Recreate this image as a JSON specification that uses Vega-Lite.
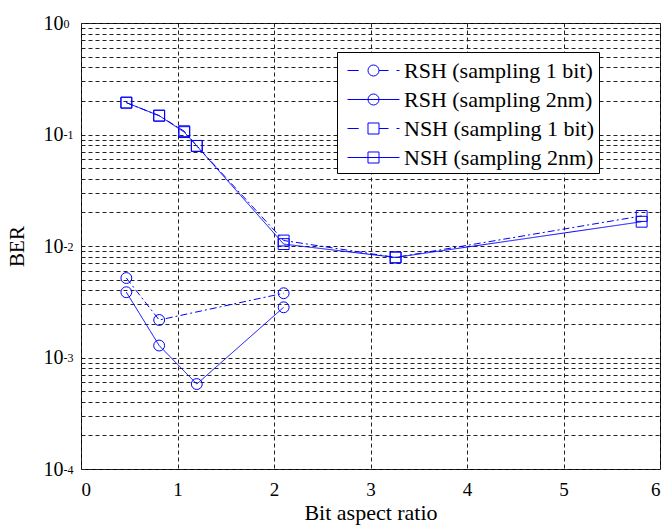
{
  "$schema": "https://vega.github.io/schema/vega-lite/v6.json",
  "width": 579,
  "height": 446,
  "autosize": {"type": "none"},
  "padding": {"left": 81, "top": 23, "right": 10, "bottom": 58},
  "background": "white",
  "config": {
    "view": {"stroke": "#000", "strokeWidth": 1},
    "font": "Liberation Serif",
    "axis": {"labelFont": "Liberation Serif", "titleFont": "Liberation Serif", "labelColor": "#000", "titleColor": "#000", "titleFontWeight": "normal"},
    "legend": {"labelFont": "Liberation Serif", "titleFont": "Liberation Serif"}
  },
  "data": {
    "values": [
      {"series": "RSH (sampling 1 bit)", "ratio": 0.47, "ber": 0.00516},
      {"series": "RSH (sampling 1 bit)", "ratio": 0.81, "ber": 0.00217},
      {"series": "RSH (sampling 1 bit)", "ratio": 2.10, "ber": 0.00377},
      {"series": "RSH (sampling 2nm)", "ratio": 0.47, "ber": 0.00385},
      {"series": "RSH (sampling 2nm)", "ratio": 0.81, "ber": 0.00128},
      {"series": "RSH (sampling 2nm)", "ratio": 1.20, "ber": 0.000578},
      {"series": "RSH (sampling 2nm)", "ratio": 2.10, "ber": 0.00282},
      {"series": "NSH (sampling 1 bit)", "ratio": 0.47, "ber": 0.193},
      {"series": "NSH (sampling 1 bit)", "ratio": 0.81, "ber": 0.1475},
      {"series": "NSH (sampling 1 bit)", "ratio": 1.07, "ber": 0.107},
      {"series": "NSH (sampling 1 bit)", "ratio": 1.20, "ber": 0.079},
      {"series": "NSH (sampling 1 bit)", "ratio": 2.10, "ber": 0.0112},
      {"series": "NSH (sampling 1 bit)", "ratio": 3.26, "ber": 0.0079},
      {"series": "NSH (sampling 1 bit)", "ratio": 5.81, "ber": 0.0186},
      {"series": "NSH (sampling 2nm)", "ratio": 0.47, "ber": 0.193},
      {"series": "NSH (sampling 2nm)", "ratio": 0.81, "ber": 0.1475},
      {"series": "NSH (sampling 2nm)", "ratio": 1.07, "ber": 0.105},
      {"series": "NSH (sampling 2nm)", "ratio": 1.20, "ber": 0.079},
      {"series": "NSH (sampling 2nm)", "ratio": 2.10, "ber": 0.0104},
      {"series": "NSH (sampling 2nm)", "ratio": 3.26, "ber": 0.0079},
      {"series": "NSH (sampling 2nm)", "ratio": 5.81, "ber": 0.0165}
    ]
  },
  "encoding": {
    "x": {
      "field": "ratio",
      "type": "quantitative",
      "scale": {"domain": [0, 6], "nice": false, "zero": false},
      "axis": {
        "values": [0, 1, 2, 3, 4, 5, 6],
        "format": "d",
        "grid": true,
        "gridColor": "#222",
        "gridOpacity": 1,
        "gridDash": [4, 3],
        "gridWidth": 1,
        "domain": false,
        "ticks": false,
        "tickSize": 0,
        "labelFont": "Liberation Serif",
        "labelFontSize": 19,
        "labelBaseline": "alphabetic",
        "labelPadding": 26,
        "title": "Bit aspect ratio",
        "titleFont": "Liberation Serif",
        "titleFontSize": 22,
        "titleBaseline": "alphabetic",
        "titleY": 50
      }
    }
  },
  "layer": [
    {
      "mark": {"type": "line", "color": "#0000ff", "strokeWidth": 1, "clip": true},
      "encoding": {
        "y": {
          "field": "ber",
          "type": "quantitative",
          "scale": {"type": "log", "domain": [0.0001, 1], "nice": false},
          "axis": {
            "orient": "left",
            "values": [0.0001, 0.0002, 0.0003, 0.0004, 0.0005, 0.0006, 0.0007, 0.0008, 0.0009, 0.001, 0.002, 0.003, 0.004, 0.005, 0.006, 0.007, 0.008, 0.009, 0.01, 0.02, 0.03, 0.04, 0.05, 0.06, 0.07, 0.08, 0.09, 0.1, 0.2, 0.3, 0.4, 0.5, 0.6, 0.7, 0.8, 0.9, 1],
            "grid": true,
            "gridColor": "#222",
            "gridOpacity": 1,
            "gridDash": [4, 3],
            "gridWidth": 1,
            "labels": false,
            "ticks": false,
            "domain": false,
            "title": null
          }
        },
        "strokeDash": {
          "field": "series",
          "type": "nominal",
          "scale": {
            "domain": ["RSH (sampling 1 bit)", "RSH (sampling 2nm)", "NSH (sampling 1 bit)", "NSH (sampling 2nm)"],
            "range": [[7, 3, 2, 3], [1, 0], [7, 3, 2, 3], [1, 0]]
          },
          "legend": null
        }
      }
    },
    {
      "mark": {"type": "point", "filled": false, "color": "#0000ff", "size": 118, "strokeWidth": 1, "opacity": 1},
      "encoding": {
        "y": {
          "field": "ber",
          "type": "quantitative",
          "scale": {"type": "log", "domain": [0.0001, 1], "nice": false},
          "axis": {
            "orient": "left",
            "values": [0.0001, 0.001, 0.01, 0.1, 1],
            "labelExpr": "'10'",
            "labelFont": "Liberation Serif",
            "labelFontSize": 20,
            "labelAlign": "right",
            "labelBaseline": "middle",
            "labelPadding": 18,
            "ticks": false,
            "tickSize": 0,
            "domain": false,
            "grid": false,
            "title": "BER",
            "titleFont": "Liberation Serif",
            "titleFontSize": 21,
            "titleBaseline": "alphabetic",
            "titleX": -58
          }
        },
        "shape": {
          "field": "series",
          "type": "nominal",
          "scale": {
            "domain": ["RSH (sampling 1 bit)", "RSH (sampling 2nm)", "NSH (sampling 1 bit)", "NSH (sampling 2nm)"],
            "range": ["circle", "circle", "square", "square"]
          },
          "legend": null
        }
      }
    },
    {
      "mark": {"type": "point", "filled": false, "color": "#0000ff", "opacity": 0},
      "encoding": {
        "y": {
          "field": "ber",
          "type": "quantitative",
          "scale": {"type": "log", "domain": [0.0001, 1], "nice": false},
          "axis": {
            "orient": "left",
            "values": [0.0001, 0.001, 0.01, 0.1, 1],
            "labelExpr": "'' + round(log(datum.value) / LN10)",
            "labelFont": "Liberation Serif",
            "labelFontSize": 12,
            "labelAlign": "left",
            "labelBaseline": "middle",
            "labelPadding": 18,
            "labelDy": -10,
            "ticks": false,
            "tickSize": 0,
            "domain": false,
            "grid": false,
            "title": null
          }
        },
        "shape": {
          "field": "series",
          "type": "nominal",
          "scale": {
            "domain": ["RSH (sampling 1 bit)", "RSH (sampling 2nm)", "NSH (sampling 1 bit)", "NSH (sampling 2nm)"],
            "range": [
              "M-1,0L-0.2,0M1.25,0L1.93,0M2.5,0L2.714,0M1.25,0A0.393,0.393,0,1,1,0.464,0A0.393,0.393,0,1,1,1.25,0Z",
              "M-1,0L2.714,0M1.25,0A0.393,0.393,0,1,1,0.464,0A0.393,0.393,0,1,1,1.25,0Z",
              "M-1,0L-0.2,0M1.25,0L1.93,0M2.5,0L2.714,0M0.464,-0.393L1.25,-0.393L1.25,0.393L0.464,0.393Z",
              "M-1,0L2.714,0M0.464,-0.393L1.25,-0.393L1.25,0.393L0.464,0.393Z"
            ]
          },
          "legend": {
            "orient": "none",
            "legendX": 256,
            "legendY": 29,
            "title": null,
            "symbolSize": 784,
            "symbolStrokeWidth": 1,
            "symbolOpacity": 1,
            "symbolStrokeColor": "#0000ff",
            "symbolFillColor": "transparent",
            "symbolOffset": 6,
            "labelFont": "Liberation Serif",
            "labelFontSize": 22,
            "labelColor": "#000",
            "labelOffset": 28,
            "labelLimit": 400,
            "padding": 4,
            "rowPadding": 3,
            "strokeColor": "#000",
            "fillColor": "#fff",
            "cornerRadius": 0
          }
        }
      }
    }
  ],
  "resolve": {"scale": {"shape": "independent"}, "axis": {"y": "independent"}}
}
